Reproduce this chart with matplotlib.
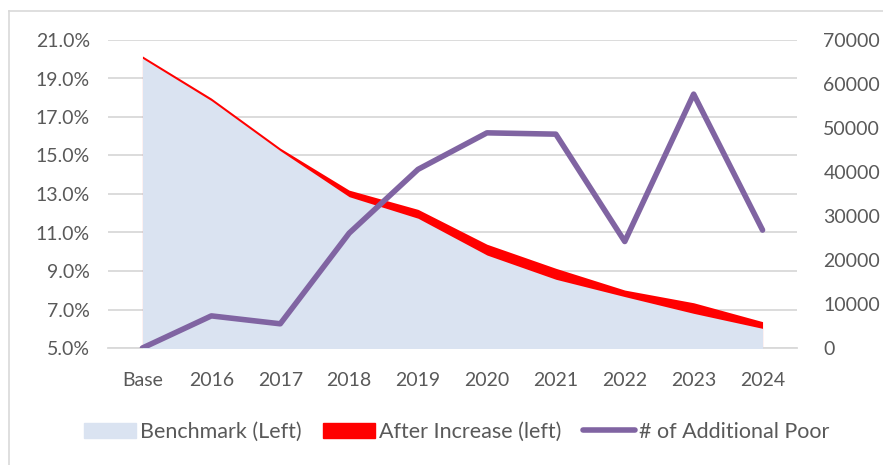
import numpy as np
import matplotlib.pyplot as plt
from matplotlib.patches import Patch
from matplotlib.lines import Line2D
from matplotlib.ticker import FuncFormatter

plt.rcParams['font.family'] = ['Lato', 'DejaVu Sans']

# --- datos ---
categories = ['Base', '2016', '2017', '2018', '2019', '2020', '2021', '2022', '2023', '2024']
benchmark = [20.05, 17.85, 15.25, 12.86, 11.74, 9.83, 8.57, 7.67, 6.80, 6.02]
after_increase = [20.17, 17.98, 15.38, 13.20, 12.20, 10.39, 9.14, 8.01, 7.35, 6.37]
additional_poor = [0, 7300, 5500, 26100, 40600, 48900, 48600, 24200, 57700, 26800]
left_ticks = np.arange(5, 21.1, 2)
right_ticks = np.arange(0, 70001, 10000)

gray = '#595959'
fs = 14
x = np.arange(len(categories))

fig = plt.figure(figsize=(8.83, 4.65), dpi=100)
ax = fig.add_axes([108 / 883, 1 - 348 / 465, 689 / 883, 308 / 465])
ax2 = ax.twinx()

# areas: after increase detras, benchmark delante
ax.fill_between(x, 0, after_increase, color='#FF0000', linewidth=0, zorder=2)
ax.fill_between(x, 0, benchmark, color='#DAE3F1', linewidth=0, zorder=3)

ax2.plot(x, additional_poor, color='#8064A2', linewidth=4, solid_capstyle='round',
         solid_joinstyle='round', zorder=4)

ax.set_xlim(-0.5, len(categories) - 0.5)
ax.set_ylim(5, 21)
ax2.set_ylim(0, 70000)
ax.set_yticks(left_ticks)
ax2.set_yticks(right_ticks)
ax.yaxis.set_major_formatter(FuncFormatter(lambda v, p: f'{v:.1f}%'))
ax.set_xticks(x)
ax.set_xticklabels(categories)

ax.grid(axis='y', color='#D9D9D9', linewidth=1.3, zorder=0)
ax.set_axisbelow(True)
for a in (ax, ax2):
    for s in a.spines.values():
        s.set_visible(False)
    a.tick_params(length=0, labelsize=fs, colors=gray)
ax.tick_params(axis='y', pad=13)
ax.tick_params(axis='x', pad=17)
ax2.tick_params(axis='y', pad=19)
ax.spines['bottom'].set_visible(True)
ax.spines['bottom'].set_color('#D9D9D9')
ax.spines['bottom'].set_linewidth(1.3)

ax.set_zorder(ax2.get_zorder() - 1)
ax.patch.set_visible(False)
ax2.patch.set_visible(False)

handles = [Patch(color='#DAE3F1'), Patch(color='#FF0000'),
           Line2D([0], [0], color='#8064A2', linewidth=4, solid_capstyle='round')]
labels = ['Benchmark (Left)', 'After Increase (left)', '# of Additional Poor']
fig.legend(handles, labels, loc='center', bbox_to_anchor=(457 / 883, 1 - 432 / 465),
           ncol=3, frameon=False, fontsize=15.5, labelcolor=gray, handlelength=2.4,
           handleheight=0.75, handletextpad=0.2, columnspacing=1.0)

# borde del grafico
fig.add_artist(Line2D([8.5 / 883, 8.5 / 883], [0, 1 - 11 / 465], color='#D9D9D9', linewidth=1.2))
fig.add_artist(Line2D([8.5 / 883, 1], [1 - 11 / 465, 1 - 11 / 465], color='#D9D9D9', linewidth=1.2))

fig.savefig('out.png', dpi=100)
